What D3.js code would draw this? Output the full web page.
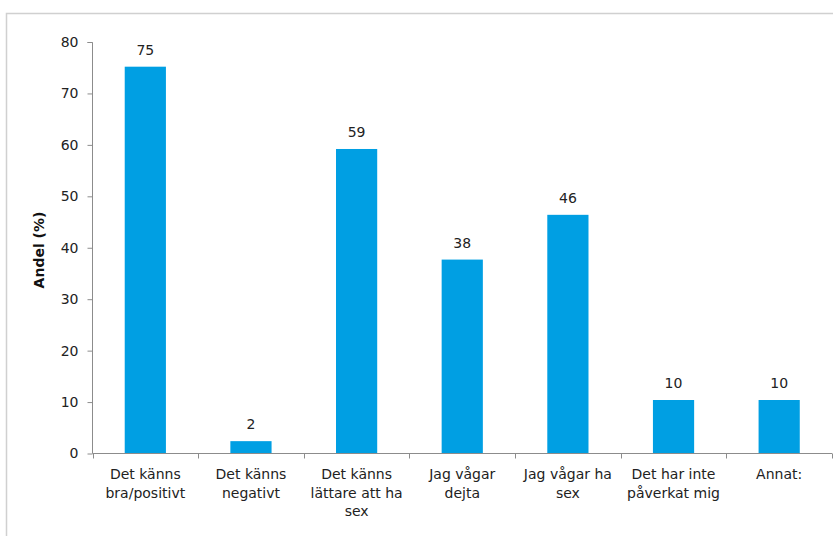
<!DOCTYPE html>
<html><head><meta charset="utf-8">
<script src="https://cdn.jsdelivr.net/npm/d3@7"></script>
<style>body{margin:0;background:#fff}svg{display:block}</style>
</head><body>
<script>
const categories = [
  ["Det känns","bra/positivt"],
  ["Det känns","negativt"],
  ["Det känns","lättare att ha","sex"],
  ["Jag vågar","dejta"],
  ["Jag vågar ha","sex"],
  ["Det har inte","påverkat mig"],
  ["Annat:"]
];
const values = [75.2, 2.4, 59.2, 37.7, 46.4, 10.4, 10.4];
const labels = ["75","2","59","38","46","10","10"];
const yTicks = [0,10,20,30,40,50,60,70,80];
const yTitle = "Andel (%)";

const W=833,H=536;
const svg=d3.select("body").append("svg").attr("width",W).attr("height",H);
const font="DejaVu Sans, Verdana, sans-serif";
svg.append("path").attr("d",`M6.5,${H} V13.5 H${W}`).attr("fill","none").attr("stroke","#d0d0d0").attr("stroke-width",1.5);

const x0=92.5,x1=832,y0=453.5,yTop=42;
const idx=categories.map((d,i)=>i);
const x=d3.scaleBand().domain(idx).range([x0,x1]).paddingInner(0.61).paddingOuter(0.305);
const xb=d3.scaleBand().domain(idx).range([x0,x1]);
const y=d3.scaleLinear().domain([0,80]).range([y0,yTop]);

svg.selectAll("rect.bar").data(values).join("rect")
  .attr("x",(d,i)=>x(i)).attr("width",x.bandwidth())
  .attr("y",d=>y(d)).attr("height",d=>y0-y(d)).attr("fill","#009FE3");

svg.selectAll("text.val").data(values).join("text")
  .attr("x",(d,i)=>x(i)+x.bandwidth()/2).attr("y",d=>y(d)-12)
  .attr("text-anchor","middle").attr("font-family",font).attr("font-size",14).attr("fill","#222")
  .text((d,i)=>labels[i]);

const ya=svg.append("g").attr("transform",`translate(${x0},0)`)
  .call(d3.axisLeft(y).tickValues(yTicks).tickSize(5).tickPadding(9));
ya.select(".domain").attr("stroke","#8c8c8c").attr("d",`M-5,${yTop}.5H0V${y0}`);
ya.selectAll(".tick line").attr("stroke","#8c8c8c");
ya.selectAll("text").attr("font-family",font).attr("font-size",14).attr("fill","#222");

const g=svg.append("g");
g.append("line").attr("x1",x0).attr("x2",x1).attr("y1",y0).attr("y2",y0).attr("stroke","#8c8c8c");
const bounds=idx.map(i=>xb(i)).concat([x1]);
g.selectAll("line.t").data(bounds).join("line")
  .attr("x1",d=>Math.round(d)+0.5).attr("x2",d=>Math.round(d)+0.5).attr("y1",y0).attr("y2",y0+5).attr("stroke","#8c8c8c");

const ct=svg.selectAll("text.cat").data(categories).join("text")
  .attr("text-anchor","middle").attr("font-family",font).attr("font-size",14).attr("fill","#222");
ct.each(function(d,i){
  const t=d3.select(this);
  d.forEach((l,j)=>t.append("tspan").attr("x",xb(i)+xb.bandwidth()/2).attr("y",479+j*18.5).text(l));
});

svg.append("text").attr("transform","translate(44,250) rotate(-90)")
  .attr("text-anchor","middle").attr("font-family",font).attr("font-size",14).attr("font-weight","bold").attr("fill","#111")
  .text(yTitle);
</script>
</body></html>
